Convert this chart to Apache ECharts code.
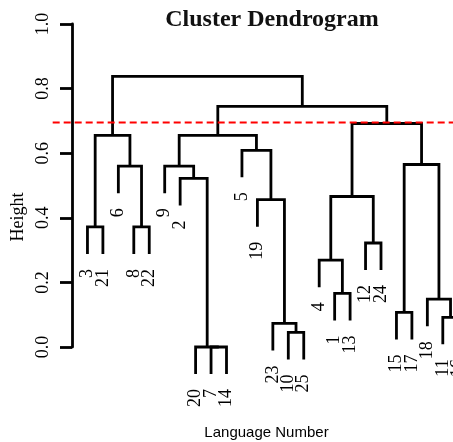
<!DOCTYPE html>
<html>
<head>
<meta charset="utf-8">
<script src="https://cdn.jsdelivr.net/npm/echarts@6/dist/echarts.min.js"></script>
<style>
*{margin:0;padding:0}
#main{width:453px;height:442px;background:#fff}
</style>
</head>
<body>
<div id="main"></div>
<script>
// languages left to right along the bottom
var leafOrder = [3,21,6,8,22,9,2,20,7,14,5,19,23,10,25,4,1,13,12,24,15,17,18,11,16];
// merge steps (hclust style): negative = a language, positive = an earlier step
var mergeLeft   = [-7,-20,-10,-23,-11,-15,-18,-1,-4,-12,-3,-8,-19, 9,-2,-6,-9, 6,-5,11,17,14,21,20];
var mergeRight  = [-14, 1,-25,  3,-16,-17,  5,-13, 8,-24,-21,-22, 4,10, 2,12,15, 7,13,16,19,18,22,23];
var mergeHeight = [0,0,0.045,0.073,0.092,0.107,0.148,0.166,0.269,0.322,0.372,0.372,
                   0.456,0.466,0.522,0.560,0.560,0.565,0.609,0.655,0.655,0.692,0.745,0.838];
var cutHeight = 0.695;
var yTicks = [0, 0.2, 0.4, 0.6, 0.8, 1.0];

var serif = '"Liberation Serif", "DejaVu Serif", serif';
var hang = 0.1 * (Math.max.apply(null, mergeHeight) - Math.min.apply(null, mergeHeight));
var xMax = 381 / 15.45;

var leafPos = {};
leafOrder.forEach(function (lab, i) { leafPos[lab] = i + 1; });

var nodeX = [];
var segs = [];
var leaves = [];
function child(c, h) {
    if (c < 0) {
        leaves.push([leafPos[-c], h - hang, -c]);
        return [leafPos[-c], h - hang];
    }
    return [nodeX[c - 1], mergeHeight[c - 1]];
}
for (var k = 0; k < mergeHeight.length; k++) {
    var h = mergeHeight[k];
    var l = child(mergeLeft[k], h);
    var r = child(mergeRight[k], h);
    nodeX[k] = (l[0] + r[0]) / 2;
    segs.push([l[0], r[0], l[1], r[1], h]);
}

var myChart = echarts.init(document.getElementById('main'));
var option = {
    backgroundColor: '#fff',
    animation: false,
    title: {
        text: 'Cluster Dendrogram',
        left: 267,
        top: 3,
        textAlign: 'center',
        textStyle: {fontFamily: serif, fontWeight: 'bold', fontSize: 24, color: '#111'}
    },
    grid: {left: 72, right: 0, top: 24, bottom: 95, outerBoundsMode: 'none', containLabel: false},
    xAxis: {
        type: 'value', min: 0, max: xMax,
        name: 'Language Number', nameLocation: 'middle', nameGap: 78,
        nameTextStyle: {fontFamily: '"Liberation Sans", Arial, sans-serif', fontSize: 15,
                        color: '#000', padding: [0, 0, 0, 8]},
        axisLine: {show: false}, axisTick: {show: false},
        axisLabel: {show: false}, splitLine: {show: false}
    },
    yAxis: {
        type: 'value', min: 0, max: 1,
        axisLine: {show: true, lineStyle: {color: '#000', width: 2.8}},
        axisTick: {show: true, length: 12, customValues: yTicks, lineStyle: {color: '#000', width: 2.8}},
        axisLabel: {
            customValues: yTicks, rotate: 90, margin: 20,
            fontFamily: serif, fontSize: 18, color: '#000',
            formatter: function (v) { return v.toFixed(1); }
        },
        splitLine: {show: false}
    },
    graphic: [{
        type: 'text', x: 18, y: 217, rotation: Math.PI / 2,
        style: {text: 'Height', align: 'center', verticalAlign: 'middle', font: '18px ' + serif, fill: '#000'}
    }],
    series: [
        {
            type: 'custom', clip: false, silent: true,
            data: segs,
            renderItem: function (params, api) {
                var a = api.coord([api.value(0), api.value(2)]);
                var b = api.coord([api.value(0), api.value(4)]);
                var c = api.coord([api.value(1), api.value(4)]);
                var d = api.coord([api.value(1), api.value(3)]);
                return {
                    type: 'polyline',
                    shape: {points: [a, b, c, d]},
                    style: {stroke: '#000', lineWidth: 2.8, fill: null}
                };
            }
        },
        {
            type: 'custom', clip: false, silent: true,
            data: leaves,
            renderItem: function (params, api) {
                var p = api.coord([api.value(0), api.value(1)]);
                return {
                    type: 'text', x: p[0], y: p[1] + 15, rotation: Math.PI / 2,
                    style: {text: String(api.value(2)), align: 'right', verticalAlign: 'middle',
                            font: '18px ' + serif, fill: '#000'}
                };
            }
        },
        {
            type: 'custom', clip: false, silent: true,
            data: [[cutHeight]],
            renderItem: function (params, api) {
                var a = api.coord([-1.25, api.value(0)]);
                var b = api.coord([xMax + 1, api.value(0)]);
                return {
                    type: 'line',
                    shape: {x1: a[0], y1: a[1], x2: b[0], y2: b[1]},
                    style: {stroke: '#ff0000', lineWidth: 2, lineDash: [7, 4]}
                };
            }
        }
    ]
};
myChart.setOption(option);
</script>
</body>
</html>
